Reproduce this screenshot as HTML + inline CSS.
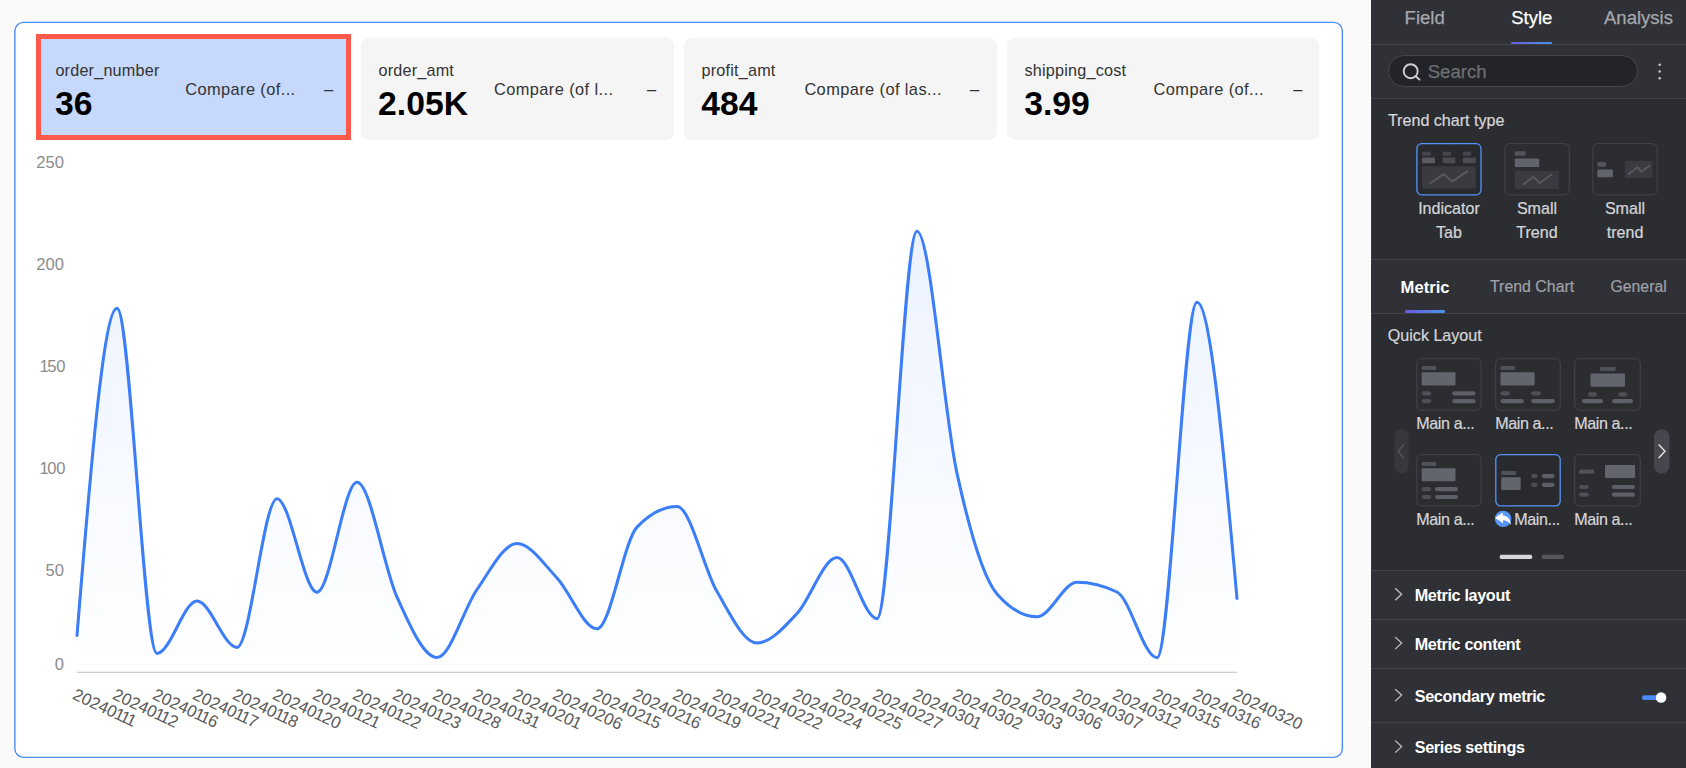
<!DOCTYPE html>
<html><head><meta charset="utf-8"><title>Trend chart style</title>
<style>
*{margin:0;padding:0;box-sizing:border-box}
html,body{width:1686px;height:768px;overflow:hidden;background:#fafafa;font-family:"Liberation Sans",sans-serif}
.page{position:relative;width:1686px;height:768px;overflow:hidden}
.cardwrap{position:absolute;left:14px;top:22px;width:1329px;height:736px;border:1.7px solid #4b8df8;border-radius:9px;background:#fff}
.chart{position:absolute;left:0;top:0}
.kc{position:absolute;top:38.2px;width:312.6px;height:101.8px;border-radius:8px}
.kn{position:absolute;left:17.4px;top:21.6px;letter-spacing:0.2px;font-size:16.2px;line-height:20px;color:#333;white-space:nowrap}
.kv{position:absolute;left:17px;top:45.2px;font-size:33.7px;line-height:40px;font-weight:bold;color:#000;white-space:nowrap}
.kcmp{position:absolute;top:41px;letter-spacing:0.4px;font-size:16.4px;line-height:20px;color:#333;white-space:nowrap}
.kd{position:absolute;top:40.5px;font-size:16.4px;line-height:20px;color:#333}
.redbox{position:absolute;left:36.2px;top:34.3px;width:315.3px;height:105.3px;border:5.1px solid #fd5a4c}
.side{position:absolute;left:1371px;top:0;width:315px;border-left:1.6px solid #38393e;height:768px;background:#2b2d31}
.band{position:absolute;left:1371.4px;width:315px;background:#2f3136}
.hl{position:absolute;left:1371.4px;width:315px;height:1.2px;background:#414348}
.ssvg{position:absolute;left:0;top:0}
.t{position:absolute;white-space:nowrap;line-height:20px}
.tab{font-size:18.5px;color:#a6a8ad;-webkit-text-stroke:0.25px currentColor}
.tab.on{color:#fff}
.s16{font-size:16.1px;color:#d6d6d9;-webkit-text-stroke:0.2px currentColor}
.dots{}
.ma{letter-spacing:-0.4px}
.bold{font-weight:bold;color:#fff;font-size:16.2px;letter-spacing:-0.35px}
.cen{text-align:center;width:88px}
.search{position:absolute;left:1388.4px;top:55px;width:249.6px;height:31.6px;border-radius:16px;background:#222428;border:1px solid #44464c}
.ul{position:absolute;height:2.6px;border-radius:1.3px;background:linear-gradient(90deg,#6a5be2,#4a93ea)}
</style></head><body><div class="page">
<svg class="chart" width="1371" height="768" viewBox="0 0 1371 768">
<defs><linearGradient id="ag" x1="0" y1="230" x2="0" y2="672" gradientUnits="userSpaceOnUse">
<stop offset="0" stop-color="#4080f5" stop-opacity="0.10"/><stop offset="1" stop-color="#4080f5" stop-opacity="0.0"/></linearGradient></defs>
<rect x="14.85" y="22.4" width="1327.5" height="734.95" rx="8.5" fill="#fff" stroke="#4a8cf8" stroke-width="1.4"/>
<path d="M77 635.4 C90.3 471.9 103.7 308.4 117 308.4 C130.3 308.4 143.7 653.4 157 653.4 C170.3 653.4 183.7 601.0 197 601 C210.3 601.0 223.7 647.4 237 647.4 C250.3 647.4 263.7 498.7 277 498.7 C290.3 498.7 303.7 592.2 317 592.2 C330.3 592.2 343.7 482.3 357 482.3 C370.3 482.3 383.7 567.8 397 597 C410.3 626.2 423.7 657.5 437 657.5 C450.3 657.5 463.7 608.5 477 589.5 C490.3 570.5 503.7 543.5 517 543.5 C530.3 543.5 543.7 563.8 557 578 C570.3 592.2 583.7 628.8 597 628.8 C610.3 628.8 623.7 540.9 637 527.1 C650.3 513.3 663.7 506.4 677 506.4 C690.3 506.4 703.7 568.8 717 591.6 C730.3 614.4 743.7 643.0 757 643 C770.3 643.0 783.7 627.8 797 613.5 C810.3 599.2 823.7 557.5 837 557.5 C850.3 557.5 863.7 618.6 877 618.6 C890.3 618.6 903.7 231.2 917 231.2 C930.3 231.2 943.7 412.9 957 473.4 C970.3 533.9 983.7 578.7 997 593.9 C1010.3 609.1 1023.7 616.7 1037 616.7 C1050.3 616.7 1063.7 582.2 1077 582.2 C1090.3 582.2 1103.7 585.5 1117 592 C1130.3 598.5 1143.7 657.7 1157 657.7 C1170.3 657.7 1183.7 302.2 1197 302.2 C1210.3 302.2 1223.7 450.3 1237 598.4 L1237 672 L77 672 Z" fill="url(#ag)"/>
<line x1="77" y1="672.3" x2="1237" y2="672.3" stroke="#c2c2c2" stroke-width="1.1"/>
<path d="M77 635.4 C90.3 471.9 103.7 308.4 117 308.4 C130.3 308.4 143.7 653.4 157 653.4 C170.3 653.4 183.7 601.0 197 601 C210.3 601.0 223.7 647.4 237 647.4 C250.3 647.4 263.7 498.7 277 498.7 C290.3 498.7 303.7 592.2 317 592.2 C330.3 592.2 343.7 482.3 357 482.3 C370.3 482.3 383.7 567.8 397 597 C410.3 626.2 423.7 657.5 437 657.5 C450.3 657.5 463.7 608.5 477 589.5 C490.3 570.5 503.7 543.5 517 543.5 C530.3 543.5 543.7 563.8 557 578 C570.3 592.2 583.7 628.8 597 628.8 C610.3 628.8 623.7 540.9 637 527.1 C650.3 513.3 663.7 506.4 677 506.4 C690.3 506.4 703.7 568.8 717 591.6 C730.3 614.4 743.7 643.0 757 643 C770.3 643.0 783.7 627.8 797 613.5 C810.3 599.2 823.7 557.5 837 557.5 C850.3 557.5 863.7 618.6 877 618.6 C890.3 618.6 903.7 231.2 917 231.2 C930.3 231.2 943.7 412.9 957 473.4 C970.3 533.9 983.7 578.7 997 593.9 C1010.3 609.1 1023.7 616.7 1037 616.7 C1050.3 616.7 1063.7 582.2 1077 582.2 C1090.3 582.2 1103.7 585.5 1117 592 C1130.3 598.5 1143.7 657.7 1157 657.7 C1170.3 657.7 1183.7 302.2 1197 302.2 C1210.3 302.2 1223.7 450.3 1237 598.4" fill="none" stroke="#3b7ef8" stroke-width="3.05" stroke-linejoin="round" stroke-linecap="round"/>
<g font-family="Liberation Sans, sans-serif" font-size="16.6" fill="#8c8c8c">
<text x="64" y="162.8" text-anchor="end" dominant-baseline="central">250</text>
<text x="64" y="264.8" text-anchor="end" dominant-baseline="central">200</text>
<text x="64" y="366.8" dx="1.6 -1.6 0" text-anchor="end" dominant-baseline="central">150</text>
<text x="64" y="468.8" dx="1.6 -1.6 0" text-anchor="end" dominant-baseline="central">100</text>
<text x="64" y="570.8" text-anchor="end" dominant-baseline="central">50</text>
<text x="64" y="664.8" text-anchor="end" dominant-baseline="central">0</text>
</g>
<g font-family="Liberation Sans, sans-serif" font-size="16.8" fill="#595959">
<text x="73.8" y="693.5" dx="0 0 0 0 0 -0.85 -1.7 -1.7" transform="rotate(25 73.8 693.5)" dominant-baseline="central">20240111</text>
<text x="113.8" y="693.5" dx="0 0 0 0 0 -0.85 -1.7 -0.85" transform="rotate(25 113.8 693.5)" dominant-baseline="central">20240112</text>
<text x="153.8" y="693.5" dx="0 0 0 0 0 -0.85 -1.7 -0.85" transform="rotate(25 153.8 693.5)" dominant-baseline="central">20240116</text>
<text x="193.8" y="693.5" dx="0 0 0 0 0 -0.85 -1.7 -0.85" transform="rotate(25 193.8 693.5)" dominant-baseline="central">20240117</text>
<text x="233.8" y="693.5" dx="0 0 0 0 0 -0.85 -1.7 -0.85" transform="rotate(25 233.8 693.5)" dominant-baseline="central">20240118</text>
<text x="273.8" y="693.5" dx="0 0 0 0 0 -0.85 -0.85 0" transform="rotate(25 273.8 693.5)" dominant-baseline="central">20240120</text>
<text x="313.8" y="693.5" dx="0 0 0 0 0 -0.85 -0.85 -0.85" transform="rotate(25 313.8 693.5)" dominant-baseline="central">20240121</text>
<text x="353.8" y="693.5" dx="0 0 0 0 0 -0.85 -0.85 0" transform="rotate(25 353.8 693.5)" dominant-baseline="central">20240122</text>
<text x="393.8" y="693.5" dx="0 0 0 0 0 -0.85 -0.85 0" transform="rotate(25 393.8 693.5)" dominant-baseline="central">20240123</text>
<text x="433.8" y="693.5" dx="0 0 0 0 0 -0.85 -0.85 0" transform="rotate(25 433.8 693.5)" dominant-baseline="central">20240128</text>
<text x="473.8" y="693.5" dx="0 0 0 0 0 -0.85 -0.85 -0.85" transform="rotate(25 473.8 693.5)" dominant-baseline="central">20240131</text>
<text x="513.8" y="693.5" dx="0 0 0 0 0 0 0 -0.85" transform="rotate(25 513.8 693.5)" dominant-baseline="central">20240201</text>
<text x="553.8" y="693.5" dx="0 0 0 0 0 0 0 0" transform="rotate(25 553.8 693.5)" dominant-baseline="central">20240206</text>
<text x="593.8" y="693.5" dx="0 0 0 0 0 0 -0.85 -0.85" transform="rotate(25 593.8 693.5)" dominant-baseline="central">20240215</text>
<text x="633.8" y="693.5" dx="0 0 0 0 0 0 -0.85 -0.85" transform="rotate(25 633.8 693.5)" dominant-baseline="central">20240216</text>
<text x="673.8" y="693.5" dx="0 0 0 0 0 0 -0.85 -0.85" transform="rotate(25 673.8 693.5)" dominant-baseline="central">20240219</text>
<text x="713.8" y="693.5" dx="0 0 0 0 0 0 0 -0.85" transform="rotate(25 713.8 693.5)" dominant-baseline="central">20240221</text>
<text x="753.8" y="693.5" dx="0 0 0 0 0 0 0 0" transform="rotate(25 753.8 693.5)" dominant-baseline="central">20240222</text>
<text x="793.8" y="693.5" dx="0 0 0 0 0 0 0 0" transform="rotate(25 793.8 693.5)" dominant-baseline="central">20240224</text>
<text x="833.8" y="693.5" dx="0 0 0 0 0 0 0 0" transform="rotate(25 833.8 693.5)" dominant-baseline="central">20240225</text>
<text x="873.8" y="693.5" dx="0 0 0 0 0 0 0 0" transform="rotate(25 873.8 693.5)" dominant-baseline="central">20240227</text>
<text x="913.8" y="693.5" dx="0 0 0 0 0 0 0 -0.85" transform="rotate(25 913.8 693.5)" dominant-baseline="central">20240301</text>
<text x="953.8" y="693.5" dx="0 0 0 0 0 0 0 0" transform="rotate(25 953.8 693.5)" dominant-baseline="central">20240302</text>
<text x="993.8" y="693.5" dx="0 0 0 0 0 0 0 0" transform="rotate(25 993.8 693.5)" dominant-baseline="central">20240303</text>
<text x="1033.8" y="693.5" dx="0 0 0 0 0 0 0 0" transform="rotate(25 1033.8 693.5)" dominant-baseline="central">20240306</text>
<text x="1073.8" y="693.5" dx="0 0 0 0 0 0 0 0" transform="rotate(25 1073.8 693.5)" dominant-baseline="central">20240307</text>
<text x="1113.8" y="693.5" dx="0 0 0 0 0 0 -0.85 -0.85" transform="rotate(25 1113.8 693.5)" dominant-baseline="central">20240312</text>
<text x="1153.8" y="693.5" dx="0 0 0 0 0 0 -0.85 -0.85" transform="rotate(25 1153.8 693.5)" dominant-baseline="central">20240315</text>
<text x="1193.8" y="693.5" dx="0 0 0 0 0 0 -0.85 -0.85" transform="rotate(25 1193.8 693.5)" dominant-baseline="central">20240316</text>
<text x="1233.8" y="693.5" dx="0 0 0 0 0 0 0 0" transform="rotate(25 1233.8 693.5)" dominant-baseline="central">20240320</text>
</g>
</svg>
<div class="kc" style="left:38px;width:312.9px;background:#c6d8fc">
<div class="kn">order_number</div><div class="kv">36</div>
<div class="kcmp" style="left:147.2px">Compare (of...</div><div class="kd" style="left:286px">–</div></div>
<div class="kc" style="left:361.1px;width:312.9px;background:#f5f5f5">
<div class="kn">order_amt</div><div class="kv">2.05K</div>
<div class="kcmp" style="left:132.89999999999998px">Compare (of l...</div><div class="kd" style="left:285.9px">–</div></div>
<div class="kc" style="left:684.2px;width:312.9px;background:#f5f5f5">
<div class="kn">profit_amt</div><div class="kv">484</div>
<div class="kcmp" style="left:120.19999999999993px">Compare (of las...</div><div class="kd" style="left:285.79999999999995px">–</div></div>
<div class="kc" style="left:1007.2px;width:311.7px;background:#f5f5f5">
<div class="kn">shipping_cost</div><div class="kv">3.99</div>
<div class="kcmp" style="left:146.39999999999986px">Compare (of...</div><div class="kd" style="left:286.0px">–</div></div>

<div class="redbox"></div>
<div style="position:absolute;left:1369.7px;top:0;width:2px;height:768px;background:#fff"></div>
<div class="side"></div>
<div class="band" style="top:0;height:98.5px"></div>
<div class="band" style="top:259.7px;height:54px"></div>
<div class="band" style="top:570.3px;height:198px"></div>
<div class="hl" style="top:44px"></div>
<div class="hl" style="top:98px"></div>
<div class="hl" style="top:258.6px"></div>
<div class="hl" style="top:313.1px"></div>
<div class="hl" style="top:569.7px"></div>
<div class="hl" style="top:618.5px"></div>
<div class="hl" style="top:667.8px"></div>
<div class="hl" style="top:721.5px"></div>
<div class="search"></div>
<div class="ul" style="left:1511px;top:41.8px;width:41px"></div>
<div class="ul" style="left:1405px;top:310.2px;width:40px"></div>
<svg class="ssvg" width="1686" height="768" viewBox="0 0 1686 768">
<rect x="1416.9" y="143.7" width="64.1" height="51.1" rx="4.8" fill="#282a2e" stroke="#5593f8" stroke-width="1.3"/>
<rect x="1504.8" y="143.6" width="64.5" height="51.3" rx="4.8" fill="#2b2d31" stroke="#43454a" stroke-width="1"/>
<rect x="1592.8" y="143.6" width="64.4" height="51.3" rx="4.8" fill="#2b2d31" stroke="#43454a" stroke-width="1"/>
<rect x="1422.1" y="151.8" width="8.7" height="4.0" fill="#45474d" rx="1"/>
<rect x="1442.6" y="151.8" width="8.5" height="4.0" fill="#45474d" rx="1"/>
<rect x="1462.9" y="151.8" width="8.4" height="4.0" fill="#45474d" rx="1"/>
<rect x="1422.1" y="157.6" width="12.9" height="5.6" fill="#5a5c63" rx="1"/>
<rect x="1442.6" y="157.6" width="12.7" height="5.6" fill="#4a4c52" rx="1"/>
<rect x="1462.9" y="157.6" width="12.9" height="5.6" fill="#4a4c52" rx="1"/>
<rect x="1422.1" y="166.3" width="53.7" height="22.1" fill="#393b40" rx="0.5"/>
<polyline points="1429.9,183.5 1443.5,174.1 1452.2,181.4 1467.1,171.4" fill="none" stroke="#585a60" stroke-width="1.9" stroke-linecap="round" stroke-linejoin="round"/>
<rect x="1514.8" y="151.2" width="10.9" height="4.6" fill="#53555c" rx="1"/>
<rect x="1514.8" y="158.5" width="24.4" height="8.5" fill="#62646c" rx="1"/>
<rect x="1514.8" y="170.8" width="44.0" height="18.2" fill="#393b40" rx="0.5"/>
<polyline points="1523.4,184.4 1533.4,176.8 1539.7,183.0 1551.5,174.5" fill="none" stroke="#585a60" stroke-width="1.9" stroke-linecap="round" stroke-linejoin="round"/>
<rect x="1597.4" y="162.1" width="8.6" height="4.7" fill="#53555c" rx="1"/>
<rect x="1597.4" y="169.6" width="15.5" height="7.6" fill="#62646c" rx="1"/>
<rect x="1625.0" y="160.9" width="27.6" height="17.2" fill="#393b40" rx="0.5"/>
<polyline points="1628.6,173.9 1637.7,167.2 1641.3,171.7 1649.5,165.8" fill="none" stroke="#585a60" stroke-width="1.9" stroke-linecap="round" stroke-linejoin="round"/>
<rect x="1416.8" y="358.7" width="64.3" height="51.4" rx="4.8" fill="#2b2d31" stroke="#43454a" stroke-width="1"/>
<rect x="1495.7" y="358.7" width="64.6" height="51.4" rx="4.8" fill="#2b2d31" stroke="#43454a" stroke-width="1"/>
<rect x="1574.7" y="358.7" width="65.6" height="51.4" rx="4.8" fill="#2b2d31" stroke="#43454a" stroke-width="1"/>
<rect x="1416.8" y="454.6" width="64.3" height="51.4" rx="4.8" fill="#2b2d31" stroke="#43454a" stroke-width="1"/>
<rect x="1495.8" y="454.7" width="64.4" height="51.2" rx="4.8" fill="#282a2e" stroke="#5593f8" stroke-width="1.3"/>
<rect x="1574.7" y="454.6" width="65.6" height="51.4" rx="4.8" fill="#2b2d31" stroke="#43454a" stroke-width="1"/>
<rect x="1421.7" y="366.0" width="14.6" height="4.0" fill="#50525a" rx="1"/>
<rect x="1421.7" y="372.3" width="33.8" height="13.1" fill="#62656e" rx="1"/>
<rect x="1421.7" y="391.2" width="9.5" height="4.2" fill="#4e5057" rx="2.1"/>
<rect x="1452.2" y="391.2" width="23.4" height="4.2" fill="#5e6069" rx="2.1"/>
<rect x="1421.7" y="399.0" width="9.5" height="4.2" fill="#4e5057" rx="2.1"/>
<rect x="1452.2" y="399.0" width="23.4" height="4.2" fill="#5e6069" rx="2.1"/>
<rect x="1500.5" y="366.0" width="14.5" height="4.0" fill="#50525a" rx="1"/>
<rect x="1500.5" y="372.3" width="34.1" height="13.1" fill="#62656e" rx="1"/>
<rect x="1500.5" y="391.2" width="9.5" height="4.2" fill="#4e5057" rx="2.1"/>
<rect x="1531.2" y="391.2" width="9.6" height="4.2" fill="#4e5057" rx="2.1"/>
<rect x="1500.5" y="399.0" width="23.4" height="4.2" fill="#5e6069" rx="2.1"/>
<rect x="1531.2" y="399.0" width="23.6" height="4.2" fill="#5e6069" rx="2.1"/>
<rect x="1600.1" y="367.0" width="15.5" height="3.9" fill="#50525a" rx="1"/>
<rect x="1590.5" y="373.6" width="34.5" height="13.1" fill="#62656e" rx="1"/>
<rect x="1588.0" y="392.3" width="8.9" height="4.2" fill="#4e5057" rx="2.1"/>
<rect x="1618.3" y="392.3" width="8.9" height="4.2" fill="#4e5057" rx="2.1"/>
<rect x="1581.8" y="399.0" width="21.2" height="4.2" fill="#5e6069" rx="2.1"/>
<rect x="1611.9" y="399.0" width="21.3" height="4.2" fill="#5e6069" rx="2.1"/>
<rect x="1421.7" y="461.9" width="14.6" height="4.0" fill="#50525a" rx="1"/>
<rect x="1421.7" y="468.2" width="33.8" height="13.1" fill="#62656e" rx="1"/>
<rect x="1421.7" y="487.1" width="9.5" height="4.2" fill="#4e5057" rx="2.1"/>
<rect x="1435.0" y="487.1" width="23.0" height="4.2" fill="#5e6069" rx="2.1"/>
<rect x="1421.7" y="494.9" width="9.5" height="4.2" fill="#4e5057" rx="2.1"/>
<rect x="1435.0" y="494.9" width="23.0" height="4.2" fill="#5e6069" rx="2.1"/>
<rect x="1501.2" y="471.0" width="14.9" height="4.0" fill="#50525a" rx="1"/>
<rect x="1501.2" y="477.3" width="19.5" height="12.7" fill="#62656e" rx="1"/>
<rect x="1531.2" y="474.0" width="6.3" height="4.2" fill="#4e5057" rx="2.1"/>
<rect x="1541.9" y="474.0" width="12.7" height="4.2" fill="#5e6069" rx="2.1"/>
<rect x="1531.2" y="482.7" width="6.3" height="4.2" fill="#4e5057" rx="2.1"/>
<rect x="1541.9" y="482.7" width="12.7" height="4.2" fill="#5e6069" rx="2.1"/>
<rect x="1579.1" y="469.5" width="15.1" height="4.2" fill="#50525a" rx="1.5"/>
<rect x="1605.0" y="465.0" width="30.0" height="13.0" fill="#62656e" rx="1"/>
<rect x="1579.1" y="484.9" width="9.6" height="4.2" fill="#4e5057" rx="2.1"/>
<rect x="1611.8" y="484.9" width="23.2" height="4.2" fill="#5e6069" rx="2.1"/>
<rect x="1579.1" y="492.6" width="9.6" height="4.2" fill="#4e5057" rx="2.1"/>
<rect x="1611.8" y="492.6" width="23.2" height="4.2" fill="#5e6069" rx="2.1"/>
<rect x="1394.2" y="429.3" width="14.5" height="44.1" rx="7.2" fill="#36383d"/>
<polyline points="1403.7,444.5 1398.2,451.3 1403.7,458.1" fill="none" stroke="#54565b" stroke-width="1.3"/>
<rect x="1654" y="429.3" width="15.5" height="44.1" rx="7.7" fill="#45474c"/>
<polyline points="1658.7,444.5 1665,451.3 1658.7,458.1" fill="none" stroke="#e6e6e6" stroke-width="1.4"/>
<rect x="1499.8" y="554.8" width="32.3" height="4.2" fill="#d8d8d8" rx="1.5"/>
<rect x="1541.9" y="554.8" width="21.9" height="4.2" fill="#55575c" rx="1.5"/>
<circle cx="1503.1" cy="518.9" r="8.2" fill="#5a95f8"/>
<path d="M1495.1 517.8 L1502.9 512.6 L1502.9 515.6 C1507.5 515.8 1510.6 519.5 1510.9 525 C1509 522 1506.5 520.3 1502.9 520.2 L1502.9 523.3 Z" fill="#fff"/>
<polyline points="1395.2,588.3 1401.6,594.3 1395.2,600.3" fill="none" stroke="#c4c4c8" stroke-width="1.3"/>
<polyline points="1395.2,637.1 1401.6,643.1 1395.2,649.1" fill="none" stroke="#c4c4c8" stroke-width="1.3"/>
<polyline points="1395.2,689.1 1401.6,695.1 1395.2,701.1" fill="none" stroke="#c4c4c8" stroke-width="1.3"/>
<polyline points="1395.2,740.6 1401.6,746.6 1395.2,752.6" fill="none" stroke="#c4c4c8" stroke-width="1.3"/>
<rect x="1641.9" y="695.2" width="20" height="4.9" rx="2.45" fill="#4a8af6"/>
<circle cx="1661.1" cy="697.5" r="5.25" fill="#fff"/>
<circle cx="1410.7" cy="71.2" r="7" fill="none" stroke="#d0d0d4" stroke-width="1.9" stroke-linecap="round" stroke-linejoin="round"/>
<line x1="1415.6" y1="76.2" x2="1419.5" y2="79.6" stroke="#d0d0d4" stroke-width="1.9" stroke-linecap="round" stroke-linejoin="round"/>
<circle cx="1659.7" cy="64.8" r="1.3" fill="#c4c4c8"/>
<circle cx="1659.7" cy="71.5" r="1.3" fill="#c4c4c8"/>
<circle cx="1659.7" cy="78.3" r="1.3" fill="#c4c4c8"/>
</svg>
<div class="t tab" style="left:1404.6px;top:8.1px;">Field</div>
<div class="t tab on" style="left:1511.2px;top:8.1px;">Style</div>
<div class="t tab" style="left:1604px;top:8.1px;">Analysis</div>
<div class="t tab" style="left:1427.7px;top:62.2px;color:#6d6f75;font-size:18.6px">Search</div>
<div class="t s16" style="left:1387.9px;top:110px;">Trend chart type</div>
<div class="t s16 cen" style="left:1405px;top:197.6px;">Indicator</div>
<div class="t s16 cen" style="left:1405px;top:222.1px;">Tab</div>
<div class="t s16 cen" style="left:1493px;top:197.6px;">Small</div>
<div class="t s16 cen" style="left:1493px;top:222.1px;">Trend</div>
<div class="t s16 cen" style="left:1581px;top:197.6px;">Small</div>
<div class="t s16 cen" style="left:1581px;top:222.1px;">trend</div>
<div class="t bold" style="left:1400.6px;top:277.6px;font-size:16.6px;letter-spacing:0">Metric</div>
<div class="t s16" style="left:1490px;top:276.7px;color:#a0a2a7;font-size:15.9px">Trend Chart</div>
<div class="t s16" style="left:1610.5px;top:276.7px;color:#a0a2a7;font-size:15.8px">General</div>
<div class="t s16" style="left:1387.8px;top:324.9px;">Quick Layout</div>
<div class="t s16 ma" style="left:1416.3px;top:412.8px;">Main a...</div>
<div class="t s16 ma" style="left:1495.2px;top:412.8px;">Main a...</div>
<div class="t s16 ma" style="left:1574.2px;top:412.8px;">Main a...</div>
<div class="t s16 ma" style="left:1416.3px;top:508.9px;">Main a...</div>
<div class="t s16 ma" style="left:1514.3px;top:508.9px;">Main...</div>
<div class="t s16 ma" style="left:1574.2px;top:508.9px;">Main a...</div>
<div class="t bold" style="left:1414.7px;top:585.1px;">Metric layout</div>
<div class="t bold" style="left:1414.7px;top:633.7px;">Metric content</div>
<div class="t bold" style="left:1414.7px;top:685.7px;">Secondary metric</div>
<div class="t bold" style="left:1414.7px;top:736.6px;">Series settings</div>
</div></body></html>
